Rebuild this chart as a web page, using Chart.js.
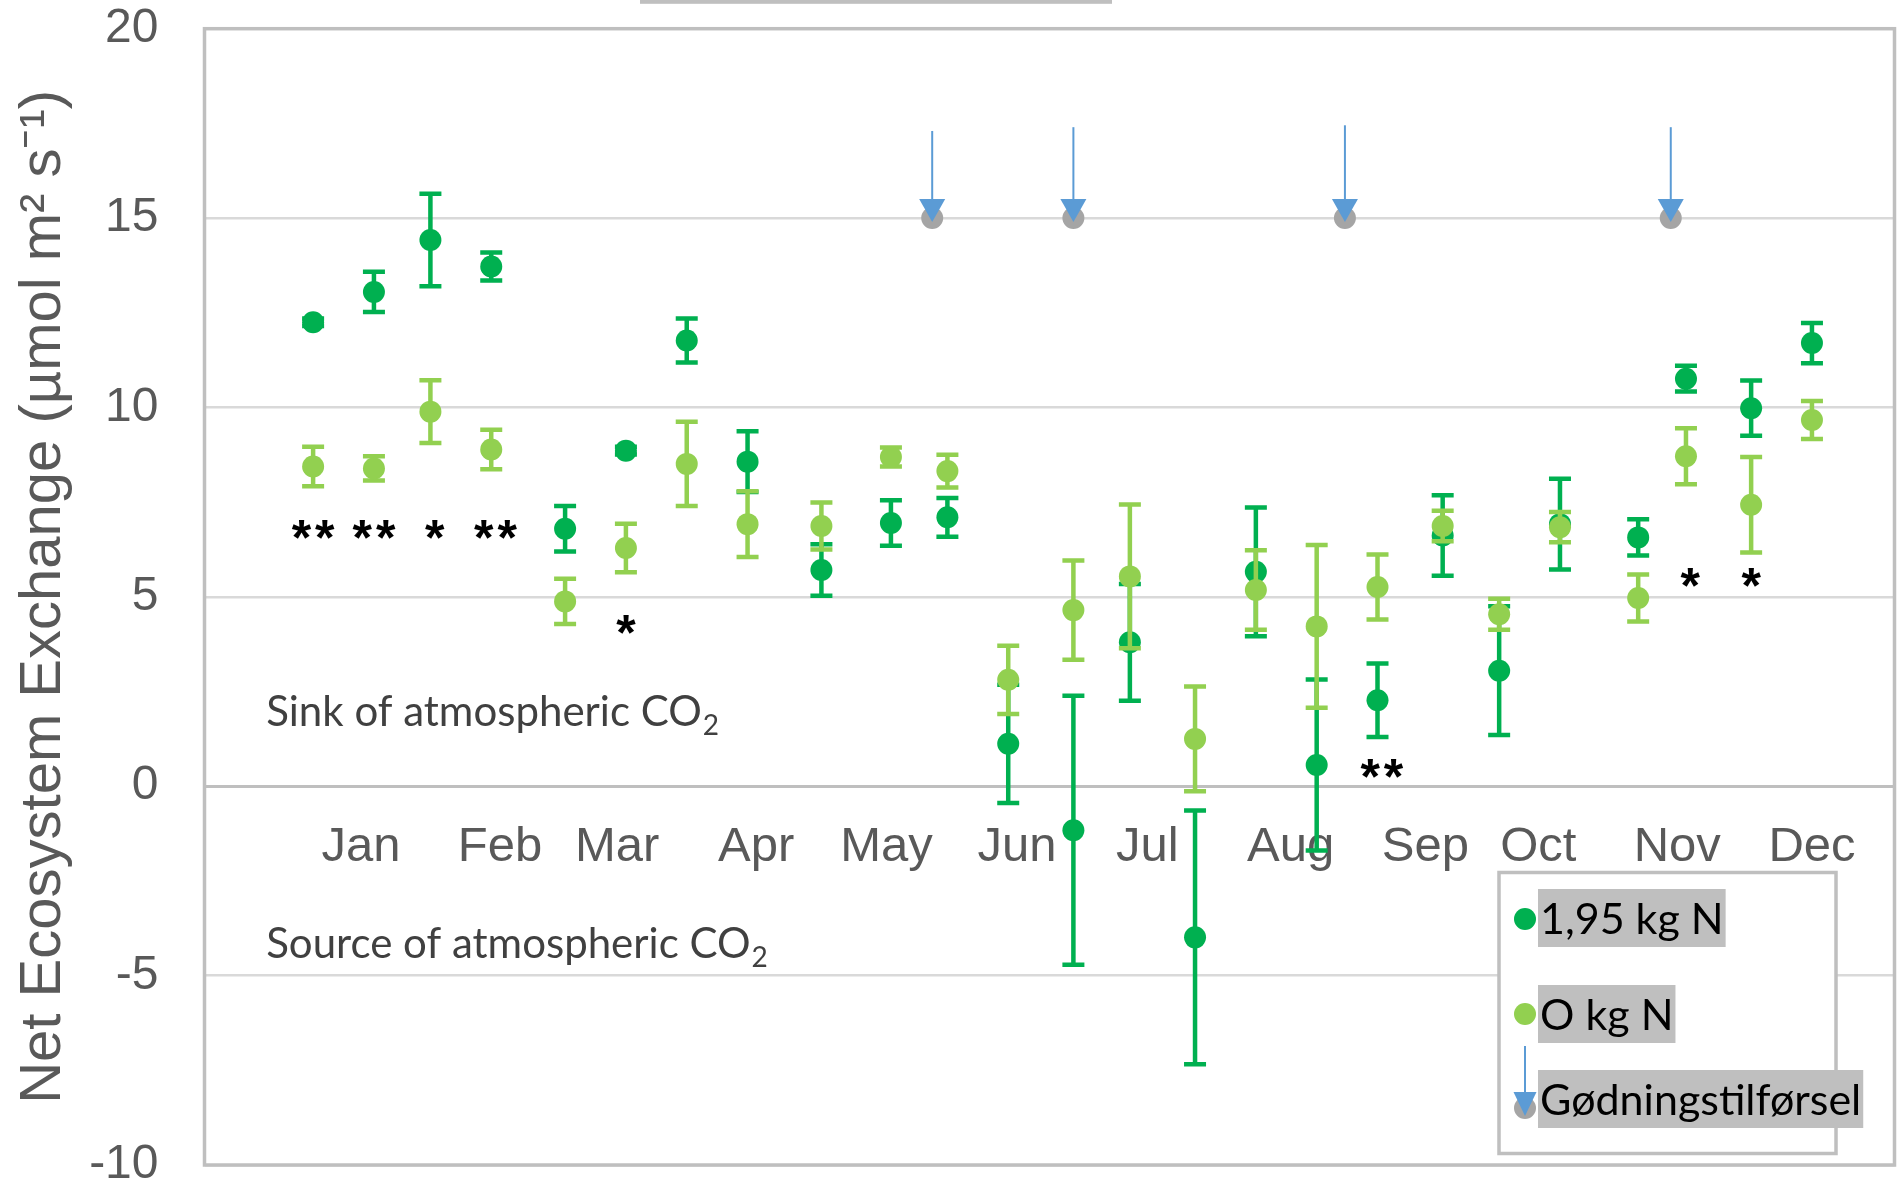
<!DOCTYPE html>
<html>
<head>
<meta charset="utf-8">
<script src="https://cdn.jsdelivr.net/npm/chart.js@4.4.0/dist/chart.umd.min.js"></script>
<style>
  html, body { margin: 0; padding: 0; background: #fff; }
  #wrap { width: 1898px; height: 1182px; }
</style>
</head>
<body>
<div id="wrap"><canvas id="nee" width="1898" height="1182"></canvas></div>
<script>
// measurement days (day of year)
var days = [4, 18, 31, 45, 62, 76, 90, 104, 121, 137, 150, 164, 179, 192, 207, 221, 235, 249, 264, 277, 291, 309, 320, 335, 349];

// NEE, 1,95 kg N
var neeHigh = [12.25, 13.05, 14.42, 13.72, 6.80, 8.86, 11.77, 8.57, 5.71, 6.95, 7.10, 1.12, -1.16, 3.80, -3.99, 5.66, 0.56, 2.27, 6.62, 3.05, 6.92, 6.57, 10.76, 9.98, 11.70];
var errHigh = [0.1, 0.53, 1.22, 0.37, 0.6, 0.1, 0.58, 0.8, 0.68, 0.6, 0.51, 1.56, 3.55, 1.54, 3.35, 1.7, 2.26, 0.97, 1.06, 1.7, 1.2, 0.48, 0.34, 0.73, 0.53];

// NEE, 0 kg N
var neeZero = [8.44, 8.39, 9.89, 8.89, 4.88, 6.29, 8.51, 6.92, 6.87, 8.69, 8.32, 2.81, 4.65, 5.54, 1.25, 5.18, 4.22, 5.26, 6.87, 4.54, 6.84, 4.97, 8.71, 7.43, 9.67];
var errZero = [0.52, 0.32, 0.83, 0.52, 0.6, 0.64, 1.11, 0.87, 0.62, 0.25, 0.43, 0.9, 1.31, 1.9, 1.38, 1.05, 2.15, 0.86, 0.4, 0.41, 0.4, 0.62, 0.74, 1.26, 0.5];

// fertilizer application
var fertDays = [146.5, 179, 241.5, 316.5];
var fertLevel = [15, 15, 15, 15];
var fertTop = [17.3, 17.4, 17.45, 17.4];

// month labels
var monthNames = ["Jan", "Feb", "Mar", "Apr", "May", "Jun", "Jul", "Aug", "Sep", "Oct", "Nov", "Dec"];
var monthDays = [15, 47, 74, 106, 136, 166, 196, 229, 260, 286, 318, 349];

// significance marks
var starDays = [4, 18, 32, 46, 76, 250, 321, 335];
var starVals = [6.77, 6.77, 6.77, 6.77, 4.28, 0.47, 5.52, 5.52];
var starText = ["**", "**", "*", "**", "*", "**", "*", "*"];

var seriesLabels = ["1,95 kg N", "O kg N", "Gødningstilførsel"];
var axisTitle = "Net Ecosystem Exchange (µmol m² s⁻¹)";

var GREEN = "#00b050";
var LIGHT = "#92d050";
var GREY = "#a5a5a5";
var BLUE = "#5b9bd5";
var FRAME = "#bfbfbf";

function pts(xs, ys) {
    return xs.map(function (x, i) { return { x: x, y: ys[i] }; });
}

function arrowHead(ctx, x, yTip, w, h) {
    ctx.beginPath();
    ctx.moveTo(x - w / 2, yTip - h);
    ctx.lineTo(x + w / 2, yTip - h);
    ctx.lineTo(x, yTip);
    ctx.closePath();
    ctx.fill();
}

function withSub(ctx, x, y, main, sub) {
    ctx.font = '42px Lato';
    ctx.textBaseline = "alphabetic";
    ctx.textAlign = "left";
    ctx.fillText(main, x, y);
    var w = ctx.measureText(main).width;
    ctx.font = '28px Lato';
    ctx.fillText(sub, x + w + 1, y + 9);
}

var decor = {
    id: "decor",
    beforeDatasetsDraw: function (chart) {
        var a = chart.chartArea, ctx = chart.ctx;
        ctx.save();
        ctx.strokeStyle = FRAME;
        ctx.lineWidth = 3.5;
        ctx.strokeRect(a.left, a.top, a.right - a.left, a.bottom - a.top);
        ctx.restore();
    },
    beforeDatasetDraw: function (chart, args) {
        var ds = chart.data.datasets[args.index];
        if (!ds.err) return;
        var ctx = chart.ctx, xs = chart.scales.x, ys = chart.scales.y;
        ctx.save();
        ctx.strokeStyle = ds.backgroundColor;
        ctx.lineWidth = 4.5;
        ds.data.forEach(function (p, i) {
            var x = xs.getPixelForValue(p.x);
            var y1 = ys.getPixelForValue(p.y + ds.err[i]);
            var y2 = ys.getPixelForValue(p.y - ds.err[i]);
            ctx.beginPath();
            ctx.moveTo(x, y1); ctx.lineTo(x, y2);
            ctx.moveTo(x - 11, y1); ctx.lineTo(x + 11, y1);
            ctx.moveTo(x - 11, y2); ctx.lineTo(x + 11, y2);
            ctx.stroke();
        });
        ctx.restore();
    },
    afterDatasetDraw: function (chart, args) {
        var ds = chart.data.datasets[args.index];
        if (!ds.top) return;
        var ctx = chart.ctx, xs = chart.scales.x, ys = chart.scales.y;
        ctx.save();
        ctx.strokeStyle = BLUE;
        ctx.fillStyle = BLUE;
        ctx.lineWidth = 2;
        ds.data.forEach(function (p, i) {
            var x = xs.getPixelForValue(p.x);
            var yTop = ys.getPixelForValue(ds.top[i]);
            var yTip = ys.getPixelForValue(p.y) + 4;
            ctx.beginPath();
            ctx.moveTo(x, yTop); ctx.lineTo(x, yTip - 20);
            ctx.stroke();
            arrowHead(ctx, x, yTip, 26, 23);
        });
        ctx.restore();
    },
    afterDraw: function (chart) {
        var ctx = chart.ctx, xs = chart.scales.x, ys = chart.scales.y;
        ctx.save();

        // cut-off title box edge at the very top
        ctx.fillStyle = FRAME;
        ctx.fillRect(640, 0, 472, 3.8);

        // significance stars
        ctx.fillStyle = "#000";
        ctx.font = 'bold 50px "Liberation Sans"';
        ctx.textAlign = "center";
        ctx.textBaseline = "alphabetic";
        ctx.letterSpacing = "4px";
        starText.forEach(function (t, i) {
            var m = ctx.measureText(t);
            var x = xs.getPixelForValue(starDays[i]) + 2;
            var y = ys.getPixelForValue(starVals[i]);
            ctx.fillText(t, x, y + (m.actualBoundingBoxAscent - m.actualBoundingBoxDescent) / 2);
        });
        ctx.letterSpacing = "0px";

        // sink / source notes
        ctx.fillStyle = "#404040";
        withSub(ctx, xs.getPixelForValue(-6.8), ys.getPixelForValue(1.6), "Sink of atmospheric CO", "2");
        withSub(ctx, xs.getPixelForValue(-6.8), ys.getPixelForValue(-4.53), "Source of atmospheric CO", "2");

        // legend
        var bx = 1499, by = 872.5, bw = 337, bh = 281;
        ctx.fillStyle = "#fff";
        ctx.fillRect(bx, by, bw, bh);
        ctx.strokeStyle = FRAME;
        ctx.lineWidth = 3.5;
        ctx.strokeRect(bx, by, bw, bh);

        var rows = [918, 1014, 1099];
        var mx = 1525;
        ctx.font = '43px Lato';
        ctx.textAlign = "left";
        ctx.textBaseline = "middle";
        seriesLabels.forEach(function (lab, i) {
            var w = ctx.measureText(lab).width;
            ctx.fillStyle = FRAME;
            ctx.fillRect(1538, rows[i] - 29, w + 4, 58);
            ctx.fillStyle = "#000";
            ctx.fillText(lab, 1540, rows[i] + 2);
        });
        ctx.fillStyle = GREEN;
        ctx.beginPath(); ctx.arc(mx, rows[0] + 1, 11, 0, Math.PI * 2); ctx.fill();
        ctx.fillStyle = LIGHT;
        ctx.beginPath(); ctx.arc(mx, rows[1], 11, 0, Math.PI * 2); ctx.fill();
        ctx.fillStyle = GREY;
        ctx.beginPath(); ctx.arc(mx, rows[2] + 9, 11, 0, Math.PI * 2); ctx.fill();
        ctx.strokeStyle = BLUE;
        ctx.lineWidth = 2;
        ctx.beginPath(); ctx.moveTo(mx, 1046); ctx.lineTo(mx, 1093); ctx.stroke();
        ctx.fillStyle = BLUE;
        arrowHead(ctx, mx, 1116, 23, 24);

        ctx.restore();
    }
};

var chart = new Chart(document.getElementById("nee").getContext("2d"), {
    type: "scatter",
    data: {
        datasets: [
            {
                label: seriesLabels[0],
                data: pts(days, neeHigh),
                err: errHigh,
                backgroundColor: GREEN,
                pointRadius: 11,
                pointBorderWidth: 0,
                order: 3,
            },
            {
                label: seriesLabels[1],
                data: pts(days, neeZero),
                err: errZero,
                backgroundColor: LIGHT,
                pointRadius: 11,
                pointBorderWidth: 0,
                order: 2,
            },
            {
                label: seriesLabels[2],
                data: pts(fertDays, fertLevel),
                top: fertTop,
                backgroundColor: GREY,
                pointRadius: 11,
                pointBorderWidth: 0,
                order: 1,
            },
        ],
    },
    options: {
        responsive: false,
        animation: false,
        devicePixelRatio: 1,
        layout: { autoPadding: false, padding: { left: 0, right: 3.5, top: 28.7, bottom: 17 } },
        plugins: { legend: { display: false }, tooltip: { enabled: false } },
        scales: {
            x: {
                type: "linear",
                position: { y: 0 },
                min: -21,
                max: 368,
                afterBuildTicks: function (scale) {
                    scale.ticks = monthDays.map(function (d) { return { value: d }; });
                },
                afterFit: function (scale) {
                    scale.paddingLeft = 0;
                    scale.paddingRight = 0;
                },
                ticks: {
                    autoSkip: false,
                    maxRotation: 0,
                    minRotation: 0,
                    padding: 32,
                    color: "#595959",
                    font: { family: "Liberation Sans", size: 49 },
                    callback: function (value, index) { return monthNames[index]; },
                },
                grid: { display: false, drawTicks: false },
                border: { display: true, color: FRAME, width: 3 },
            },
            y: {
                min: -10,
                max: 20,
                ticks: {
                    stepSize: 5,
                    padding: 46,
                    color: "#595959",
                    font: { family: "Liberation Sans", size: 48, lineHeight: 1 },
                },
                grid: {
                    drawTicks: false,
                    color: function (c) { return c.tick && c.tick.value === 0 ? FRAME : "#d9d9d9"; },
                    lineWidth: function (c) { return c.tick && c.tick.value === 0 ? 3 : 2.5; },
                },
                border: { display: false },
                title: {
                    display: true,
                    text: axisTitle,
                    color: "#595959",
                    font: { family: "Liberation Sans", size: 58, lineHeight: 1.2 },
                    padding: { top: 9, bottom: 0 },
                },
                afterFit: function (scale) {
                    scale.width = 204.5;
                    scale.paddingTop = 0;
                    scale.paddingBottom = 0;
                },
            },
        },
    },
    plugins: [decor],
});
</script>
</body>
</html>
